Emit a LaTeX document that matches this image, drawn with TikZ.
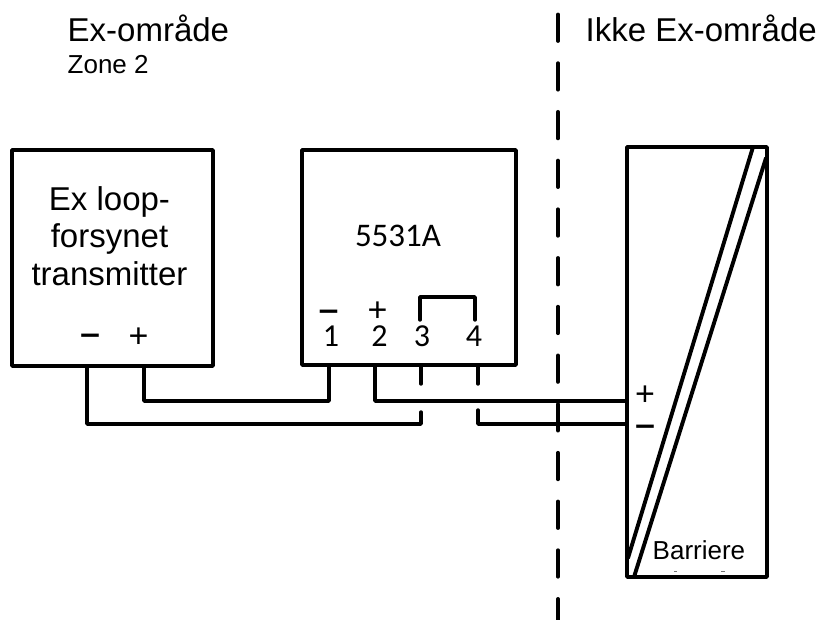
\documentclass[tikz,border=0pt]{standalone}
\usepackage{fontspec}
\setmainfont{Liberation Sans}
\newfontfamily\carl{Carlito}
\newfontfamily\dejav{DejaVu Sans}
\tikzset{
 wire/.style={line width=3.4pt,line cap=round,line join=round},
 big/.style={font=\fontsize{33}{37.5}\selectfont,inner sep=0,align=center},
 small/.style={font=\fontsize{26}{28}\selectfont,inner sep=0,anchor=base west},
 lab/.style={font=\carl\fontsize{32}{34}\selectfont,inner sep=0,anchor=base},
 plussign/.style={font=\fontsize{34}{35}\selectfont,inner sep=0,anchor=center},
 minussign/.style={font=\dejav\bfseries\fontsize{28}{29}\selectfont,inner sep=0,anchor=center,yshift=-3pt},
}
\begin{document}
\begin{tikzpicture}[x=1pt,y=-1pt]
\useasboundingbox (0,0) rectangle (822,620);
% boxes
\coordinate (lt) at (12,150); \coordinate (lb) at (213,366);
\coordinate (mt) at (302,150); \coordinate (mb) at (516,365);
\coordinate (rt) at (627,147); \coordinate (rb) at (767,577);
\draw[wire,line width=3.6pt] (lt) rectangle (lb);
\draw[wire,line width=3.6pt] (mt) rectangle (mb);
\draw[wire,line width=3.6pt] (rt) rectangle (rb);
% diagonals
\coordinate (d1a) at (753,147); \coordinate (d1b) at (628,558);
\coordinate (d2a) at (766,158); \coordinate (d2b) at (634,577);
\draw[wire,line width=3.9pt] (d1a) -- (d1b);
\draw[wire,line width=3.9pt] (d2a) -- (d2b);
% wires
\coordinate (a1) at (144,366); \coordinate (a2) at (329,365);
\draw[wire] (a1) -- (144,401) -- (329,401) -- (a2);
\coordinate (b1) at (87,366); \coordinate (b2) at (421,412);
\draw[wire] (b1) -- (87,424) -- (421,424) -- (b2);
\coordinate (c1) at (375,365); \coordinate (c2) at (627,401);
\draw[wire] (c1) -- (375,401) -- (c2);
\coordinate (e1) at (478,410); \coordinate (e2) at (627,424);
\draw[wire] (e1) -- (478,424) -- (e2);
\coordinate (s3a) at (421,365); \coordinate (s3b) at (421,384);
\coordinate (s4a) at (478,365); \coordinate (s4b) at (478,384);
\draw[wire] (s3a) -- (s3b);
\draw[wire] (s4a) -- (s4b);
\coordinate (j3) at (420,320); \coordinate (j4) at (475,320);
\draw[wire] (j3) -- (420,297) -- (475,297) -- (j4);
% zone divider
\coordinate (z1) at (558,14.5); \coordinate (z2) at (558,622);
\draw[line width=3.8pt,line cap=round,dash pattern=on 26.5pt off 22.2pt] (z1) -- (z2);
% texts
\node[big,anchor=base west] (t1) at (67.5,42) {Ex-område};
\node[small] (t2) at (67.5,74) {Zone 2};
\node[big,anchor=base west] (t3) at (585.5,42) {Ikke Ex-område};
\node[big,anchor=center] (t4) at (109.5,236) {Ex loop-\\forsynet\\transmitter};
\node[inner sep=0,anchor=base,font=\carl\fontsize{33}{36}\selectfont] (t5) at (398,247) {5531A};
\node[lab] (n1) at (331,346) {1};
\node[lab] (n2) at (379.5,346) {2};
\node[lab] (n3) at (422,346) {3};
\node[lab] (n4) at (474,346) {4};
\node[minussign] (p1) at (328.5,312.5) {−};
\node[plussign] (p2) at (377.5,312) {+};
\node[minussign] (p3) at (90,336) {−};
\node[plussign] (p4) at (138.5,338) {+};
\node[plussign] (p5) at (645,395.5) {+};
\node[minussign] (p6) at (645,427) {−};
\node[small] (t6) at (652.5,559) {Barriere};
% remnants of clipped text under the label
\coordinate (r1) at (674,571.3); \coordinate (r2) at (676.5,571.3);
\coordinate (r3) at (721,571.3); \coordinate (r4) at (725,571.3);
\draw[line width=0.8pt,black!55] (r1) -- (r2);
\draw[line width=0.8pt,black!55] (r3) -- (r4);
\end{tikzpicture}
\end{document}
